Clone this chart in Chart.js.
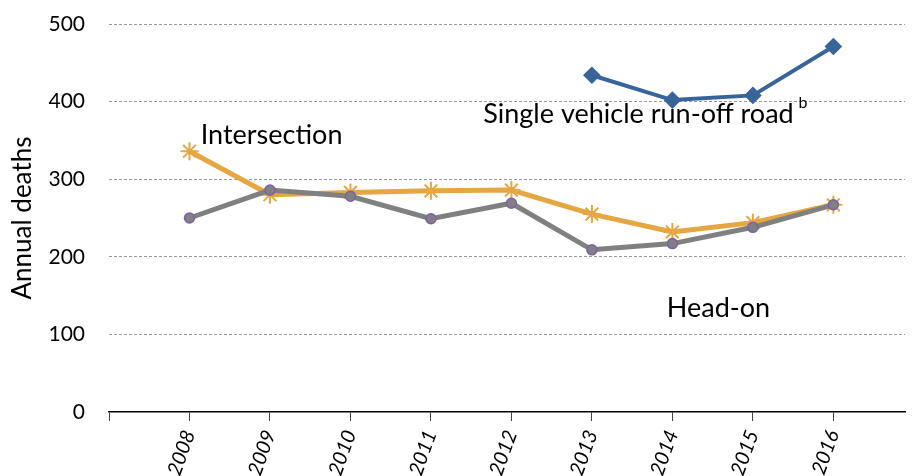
<!DOCTYPE html>
<html>
<head>
<meta charset="utf-8">
<script src="https://cdn.jsdelivr.net/npm/chart.js@4"></script>
<style>
  html, body { margin: 0; padding: 0; background: white; overflow: hidden; }
</style>
</head>
<body>
<canvas id="deaths" width="916" height="476"></canvas>
<script>
        var years = [2008, 2009, 2010, 2011, 2012, 2013, 2014, 2015, 2016];
        var headOn = [250, 286, 278, 249, 269, 209, 217, 238, 267];
        var intersection = [336, 280, 283, 285, 286, 255, 232, 244, 267];
        var runOffYears = [2013, 2014, 2015, 2016];
        var runOff = [434, 402, 408, 471];
        var yTicks = [0, 100, 200, 300, 400, 500];

        // series names written on the plot, placed in data units
        var labels = [
            {text: 'Intersection', x: 2008.14, y: 357},
            {text: 'Single vehicle run-off road', sup: 'b', x: 2011.65, y: 383},
            {text: 'Head-on', x: 2013.93, y: 134}
        ];

        function points(xs, ys) {
            return xs.map(function (x, i) { return {x: x, y: ys[i]}; });
        }

        var FONT = 'Lato, "Open Sans", sans-serif';
        Chart.defaults.color = 'black';
        Chart.defaults.font.family = FONT;

        var seriesLabels = {
            id: 'seriesLabels',
            afterDatasetsDraw: (chart) => {
                const {ctx, scales} = chart;
                ctx.save();
                ctx.fillStyle = 'black';
                ctx.textBaseline = 'middle';
                ctx.textAlign = 'left';
                labels.forEach(function (l) {
                    var px = scales.x.getPixelForValue(l.x);
                    var py = scales.y.getPixelForValue(l.y);
                    ctx.font = '27px ' + FONT;
                    ctx.fillText(l.text, px, py);
                    if (l.sup) {
                        var w = ctx.measureText(l.text + ' ').width;
                        ctx.font = '16px ' + FONT;
                        ctx.fillText(l.sup, px + w - 2, py - 12);
                    }
                });
                ctx.restore();
            }
        };

        const cv = document.getElementById('deaths');
        new Chart(cv, {
            type: 'line',
            data: {
                datasets: [{
                    label: 'Head-on',
                    data: points(years, headOn),
                    borderColor: '#808080',
                    borderWidth: 5,
                    pointStyle: 'circle',
                    pointRadius: 5,
                    pointBackgroundColor: '#808080',
                    pointBorderColor: '#7E5FAA',
                    pointBorderWidth: 1.5
                }, {
                    label: 'Intersection',
                    data: points(years, intersection),
                    borderColor: '#E5A643',
                    borderWidth: 5,
                    pointStyle: 'star',
                    pointRadius: 9,
                    pointBorderColor: '#E5A643',
                    pointBorderWidth: 2
                }, {
                    label: 'Single vehicle run-off road',
                    data: points(runOffYears, runOff),
                    borderColor: '#376599',
                    borderWidth: 4,
                    pointStyle: 'rectRot',
                    pointRadius: 6,
                    pointBackgroundColor: '#376599',
                    pointBorderColor: '#376599'
                }]
            },
            options: {
                responsive: false,
                animation: false,
                layout: { padding: {top: 24, right: 0, left: 0, bottom: 0} },
                plugins: {
                    legend: { display: false },
                    tooltip: { enabled: false }
                },
                scales: {
                    x: {
                        type: 'linear',
                        min: 2007,
                        max: 2016.89,
                        afterBuildTicks: (scale) => {
                            scale.ticks = scale.ticks.filter(t => Number.isInteger(t.value));
                        },
                        afterFit: (scale) => {
                            scale.height = 64;
                            scale.paddingLeft = 0;
                            scale.paddingRight = 0;
                        },
                        border: { display: true, color: 'black', width: 1.5 },
                        grid: {
                            drawOnChartArea: false,
                            drawTicks: true,
                            tickLength: 9,
                            color: '#444'
                        },
                        ticks: {
                            stepSize: 1,
                            minRotation: 70,
                            maxRotation: 70,
                            padding: 6,
                            color: 'black',
                            font: { size: 20, style: 'italic' },
                            callback: (v) => v === 2007 ? '' : String(v)
                        }
                    },
                    y: {
                        min: 0,
                        max: 500,
                        afterBuildTicks: (scale) => {
                            scale.ticks = yTicks.map(v => ({value: v}));
                        },
                        afterFit: (scale) => {
                            scale.width = 109;
                            scale.paddingTop = 0;
                            scale.paddingBottom = 0;
                        },
                        border: { display: false, dash: [3, 2] },
                        grid: {
                            drawTicks: false,
                            color: (c) => c.tick.value === 0 ? 'rgba(0,0,0,0)' : '#999',
                            lineWidth: 1
                        },
                        ticks: {
                            padding: 24,
                            color: 'black',
                            font: { size: 21 }
                        },
                        title: {
                            display: true,
                            text: 'Annual deaths',
                            color: 'black',
                            font: { size: 26 },
                            padding: {top: 7, bottom: 0}
                        }
                    }
                }
            },
            plugins: [seriesLabels]
        });
</script>
</body>
</html>
